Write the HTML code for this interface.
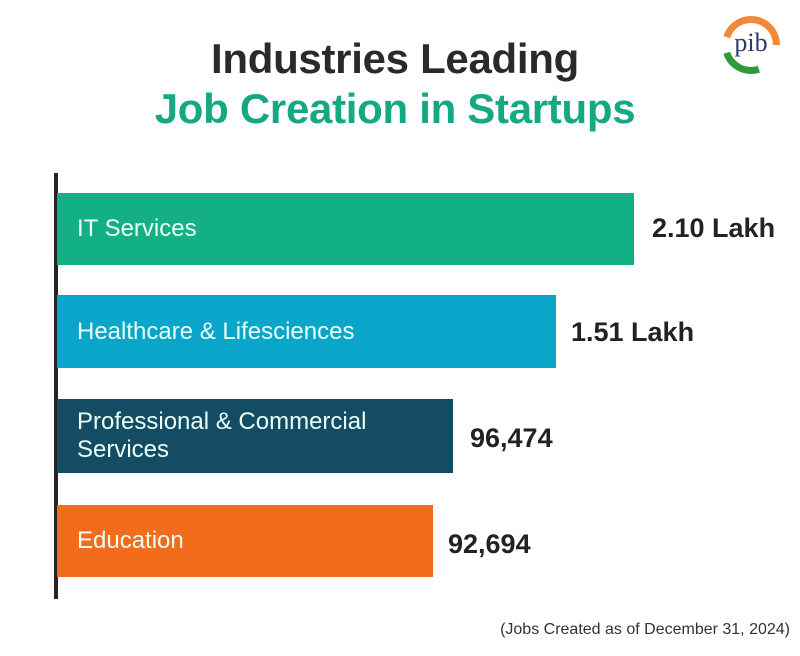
<!DOCTYPE html>
<html><head><style>
body{margin:0;width:800px;height:656px;background:#fff;position:relative;font-family:"Liberation Sans",sans-serif;overflow:hidden}
.t{position:absolute;left:0;width:790px;text-align:center;font-weight:bold;font-size:42px;letter-spacing:-0.3px}
.bar{position:absolute;left:57px;color:#eafff8;font-size:24px;display:flex;align-items:center;padding-left:20px;box-sizing:border-box;line-height:28px}
.v{position:absolute;font-weight:bold;font-size:27px;color:#222}
</style></head><body>
<div class="t" style="top:35px;color:#2a2a2a">Industries Leading</div>
<div class="t" style="top:85px;color:#15a883">Job Creation in Startups</div>
<div style="position:absolute;left:722px;top:16px;width:58px;height:58px;border-radius:50%;background:conic-gradient(#f08a3a 0 25%,#fff 25% 45%,#2e9a3a 45% 70%,#fff 70% 80%,#f08a3a 80%);"></div>
<div style="position:absolute;left:729px;top:23px;width:44px;height:44px;border-radius:50%;background:#fff;color:#2b3a6b;font-size:26px;text-align:center;line-height:40px;font-family:'Liberation Serif',serif">pib</div>
<div style="position:absolute;left:54px;top:173px;width:4px;height:426px;background:#222"></div>
<div class="bar" style="top:193px;width:577px;height:72px;background:#13b086">IT Services</div>
<div class="v" style="left:652px;top:213px">2.10 Lakh</div>
<div class="bar" style="top:295px;width:499px;height:73px;background:#0aa6c9">Healthcare &amp; Lifesciences</div>
<div class="v" style="left:571px;top:317px">1.51 Lakh</div>
<div class="bar" style="top:399px;width:396px;height:74px;background:#134c63">Professional &amp; Commercial<br>Services</div>
<div class="v" style="left:470px;top:423px">96,474</div>
<div class="bar" style="top:505px;width:376px;height:72px;background:#f36c1c">Education</div>
<div class="v" style="left:448px;top:529px">92,694</div>
<div style="position:absolute;right:10px;top:621px;font-size:16px;color:#333">(Jobs Created as of December 31, 2024)</div>
</body></html>
